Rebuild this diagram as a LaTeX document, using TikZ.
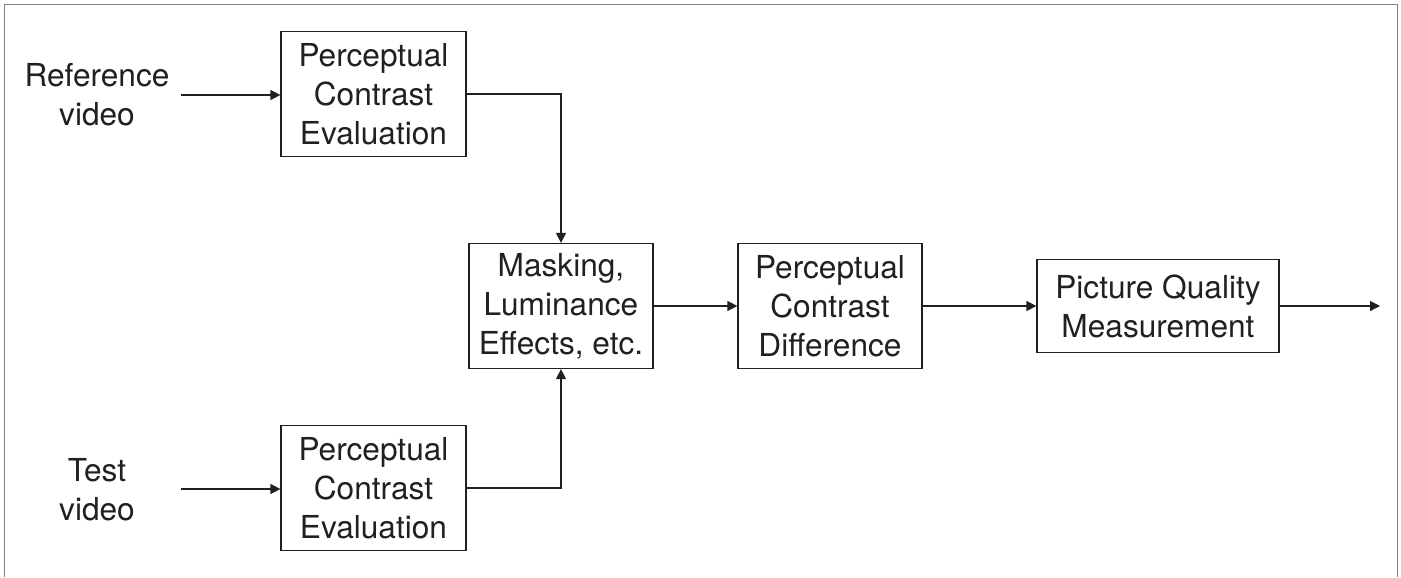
\documentclass[tikz,border=0pt]{standalone}
\usepackage{fontspec}
\setmainfont{TeX Gyre Heros}
\usetikzlibrary{arrows.meta}
\definecolor{ink}{RGB}{35,31,32}
\definecolor{frame}{RGB}{128,128,128}

\begin{document}
\begin{tikzpicture}[line width=0.7pt,>={Triangle[length=0.2cm,width=0.2cm]},
  font=\fontsize{18}{22.2}\selectfont,text=ink,
  blk/.style={draw=ink,align=center,inner sep=0pt,minimum width=3.7cm,minimum height=2.5cm},
  lbl/.style={align=center,inner sep=0pt},
  flow/.style={draw=ink,->}]
\useasboundingbox (0,0) rectangle (28.02,-11.54);
% ================ frame ================
\draw[frame,line width=1.1pt] (0.09,-11.54) -- (0.09,-0.09) -- (27.95,-0.09) -- (27.95,-11.54);
% ================ inputs ================
\node[lbl] (refin) at (1.94,-1.9) {Reference\\video};
\node[lbl] (testin) at (1.94,-9.8) {Test\\video};
\coordinate (refstart) at (3.62,-1.9);
\coordinate (teststart) at (3.62,-9.78);
% ================ blocks ================
\node[blk] (pce1) at (7.47,-1.88) {Perceptual\\Contrast\\Evaluation};
\node[blk] (pce2) at (7.47,-9.76) {Perceptual\\Contrast\\Evaluation};
\node[blk,minimum width=3.68cm] (mask) at (11.22,-6.12) {Masking,\\Luminance\\Effects, etc.};
\node[blk,minimum width=3.68cm] (pcd) at (16.6,-6.12) {Perceptual\\Contrast\\Difference};
\node[blk,minimum width=4.84cm,minimum height=1.86cm] (pqm) at (23.16,-6.12) {Picture Quality\\Measurement};
\coordinate (out) at (27.6,-6.12);
% ================ connectors ================
\draw[flow] (refstart) -- (refstart -| pce1.west);
\draw[flow] (teststart) -- (teststart -| pce2.west);
\draw[flow] (pce1.east) -| (mask.north);
\draw[flow] (pce2.east) -| (mask.south);
\draw[flow] (mask.east) -- (pcd.west);
\draw[flow] (pcd.east) -- (pqm.west);
\draw[flow] (pqm.east) -- (out);
\end{tikzpicture}
\end{document}
